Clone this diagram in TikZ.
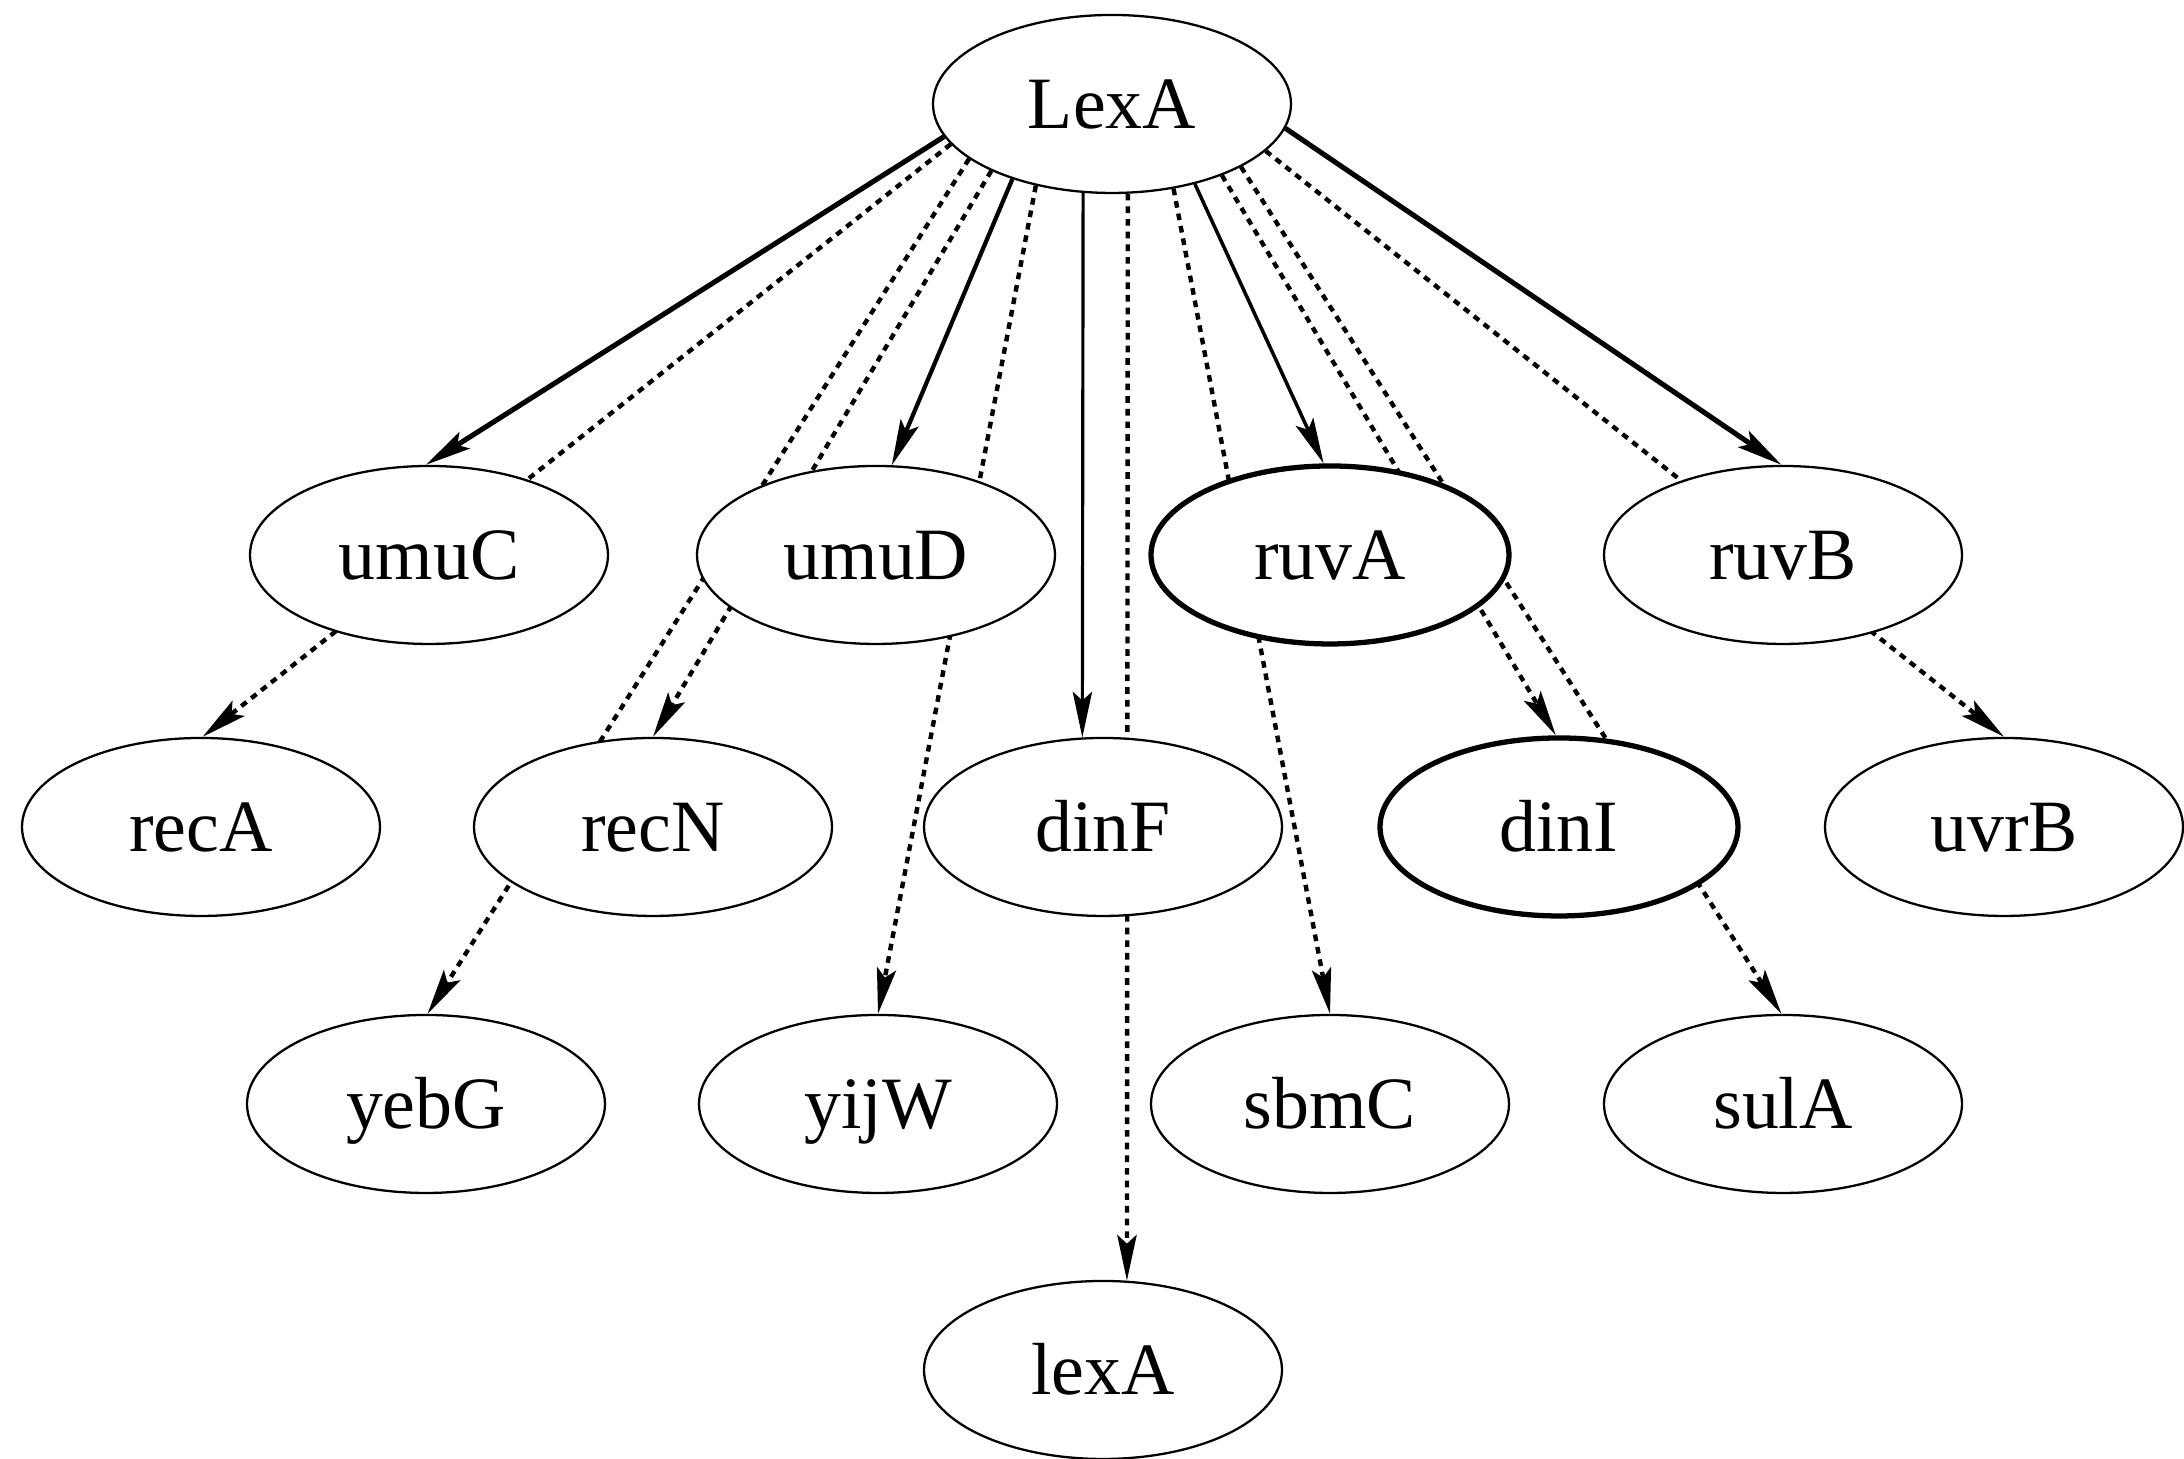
\documentclass[tikz,border=0pt]{standalone}
\usepackage{fontspec}
\setmainfont{Liberation Serif}
\usetikzlibrary{arrows.meta,shapes.geometric,backgrounds}

\begin{document}
\begin{tikzpicture}[
    gene/.style={ellipse, draw, line width=0.65pt, fill=white,
      minimum width=3.58cm, minimum height=1.78cm, inner sep=0pt,
      font=\fontsize{21}{25}\selectfont, text height=13.9pt, text depth=0pt},
    hub/.style={gene, line width=1.5pt},
    link/.style={-{Stealth[length=13pt,width=5.5pt,inset=2.5pt]}},
    weak/.style={link, line width=1.25pt, dash pattern=on 1.9pt off 1.7pt}
  ]
  \useasboundingbox (0,0) rectangle (21.84,14.59);

  % regulator
  \node[gene] (LexA) at (11.12,13.55) {LexA};

  % first row
  \node[gene] (umuC) at (4.29,9.04) {umuC};
  \node[gene] (umuD) at (8.76,9.04) {umuD};
  \node[hub]  (ruvA) at (13.30,9.04) {ruvA};
  \node[gene] (ruvB) at (17.83,9.04) {ruvB};

  % second row
  \node[gene] (recA) at (2.01,6.32) {recA};
  \node[gene] (recN) at (6.53,6.32) {recN};
  \node[gene] (dinF) at (11.03,6.32) {dinF};
  \node[hub]  (dinI) at (15.59,6.32) {dinI};
  \node[gene] (uvrB) at (20.04,6.32) {uvrB};

  % third row
  \node[gene] (yebG) at (4.26,3.55) {yebG};
  \node[gene] (yijW) at (8.78,3.55) {yijW};
  \node[gene] (sbmC) at (13.30,3.55) {sbmC};
  \node[gene] (sulA) at (17.83,3.55) {sulA};

  % autoregulation
  \node[gene] (lexA) at (11.03,0.89) {lexA};

  \begin{scope}[on background layer]
    \draw[link, line width=1.45pt] (LexA.-169.2) -- (umuC.92.7);
    \draw[link, line width=1.2pt] (LexA.-143.3) -- (umuD.80.2);
    \draw[link, line width=0.9pt] (LexA.-108.4) -- (dinF.103.3);
    \draw[link, line width=1pt] (LexA.-44) -- (ruvA.94.5);
    \draw[link, line width=1.45pt] (LexA.-8.6) -- (ruvB.91.8);
    \foreach \target/\from/\to in {recA/-166.1/89, yebG/-159.8/89,
        recN/-151.6/90, yijW/-133.5/90, lexA/-80.2/75, sbmC/-54.4/90,
        dinI/-33.2/92.7, sulA/-26.1/91.8, uvrB/-17.3/90}
      \draw[weak] (LexA.\from) -- (\target.\to);
  \end{scope}
\end{tikzpicture}
\end{document}
